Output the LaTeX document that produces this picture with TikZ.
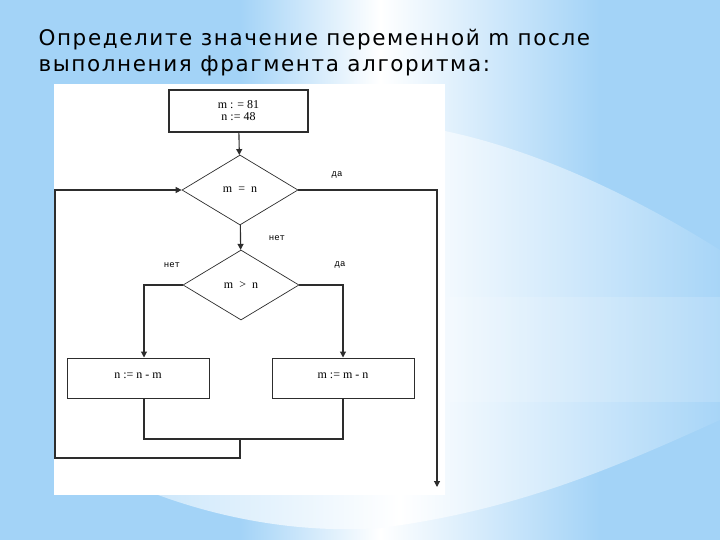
\documentclass[tikz,border=0pt]{standalone}
\usepackage{fontspec}
\setmainfont{DejaVu Sans}
\newfontfamily\zagfont[LetterSpace=7.5]{DejaVu Sans}
\newfontfamily\flowfont{Liberation Serif}
\newfontfamily\metkafont{Liberation Mono}
\usetikzlibrary{arrows.meta,shapes.geometric}
\definecolor{bgblue}{RGB}{163,211,247}
\definecolor{linegray}{RGB}{45,45,45}

\begin{document}
\begin{tikzpicture}[x=1pt,y=-1pt,line width=1.1pt,>={Triangle[length=6pt,width=6pt]},
  blok/.style={draw=linegray,fill=white,line width=1pt,minimum width=142pt,minimum height=40pt,inner sep=0pt,font=\flowfont\fontsize{12}{13}\selectfont},
  romb/.style={diamond,draw=linegray,line width=0.7pt,minimum width=116pt,minimum height=70pt,inner sep=0pt,font=\flowfont\fontsize{12}{14}\selectfont},
  metka/.style={font=\metkafont\fontsize{9}{10}\selectfont},
  zag/.style={anchor=base west,inner sep=0pt,font=\zagfont\fontsize{21.5}{26}\selectfont},
  svyaz/.style={draw=linegray,line width=1.1pt}]
  \useasboundingbox (0,0) rectangle (720,540);
  % фон слайда
  \fill[bgblue] (0,0) rectangle (720,540);
  \shade[left color=bgblue,right color=white] (240,0) rectangle (380,540);
  \shade[left color=white,right color=bgblue] (380,0) rectangle (600,540);
  \begin{scope}
    \clip (440,130) .. controls (540,150) and (640,200) .. (720,250) -- (720,420)
      .. controls (620,465) and (520,510) .. (380,528)
      .. controls (280,535) and (180,510) .. (100,470) -- (0,430) -- (0,140)
      .. controls (150,110) and (330,110) .. (440,130) -- cycle;
    \shade[left color=bgblue!55!white,right color=white] (150,0) rectangle (400,540);
    \shade[left color=white,right color=bgblue!95!white] (400,0) rectangle (720,540);
  \end{scope}
  \fill[white,opacity=0.15] (445,297) rectangle (720,402);
  % заголовок
  \node[zag] (zag1) at (38,46) {Определите значение переменной m после};
  \node[zag] (zag2) at (38,72) {выполнения фрагмента алгоритма:};
  % поле со схемой
  \fill[white] (54,84) rectangle (445,495);
  % блоки
  \node[blok,line width=1.4pt,minimum width=139pt,minimum height=42pt,align=center] (nach) at (238.5,111) {m : = 81\\[-1pt]n := 48};
  \node[romb] (usl1) at (240,190) {m\enspace=\enspace n};
  \node[romb] (usl2) at (241,285) {m\enspace>\enspace n};
  \node[blok] (blokn) at (138,378) {\raisebox{4pt}{n := n - m}};
  \node[blok] (blokm) at (343,378) {\raisebox{4pt}{m := m - n}};
  % точки для линий
  \coordinate (sliv) at (240,439);
  \coordinate (niz) at (240,458);
  \coordinate (levo) at (55,458);
  \coordinate (vyhod) at (437,487);
  % связи
  \draw[svyaz,->] (nach) -- (usl1);
  \draw[svyaz,->] (usl1) -- (usl2);
  \draw[svyaz,->] (usl2.west) -| ([xshift=6pt]blokn.north);
  \draw[svyaz,->] (usl2.east) -| (blokm.north);
  \draw[svyaz] ([xshift=6pt]blokn.south) |- (sliv) -| (blokm.south);
  \draw[svyaz,->] (sliv) -- (niz) -- (levo) |- (usl1.west);
  \draw[svyaz,->] (usl1.east) -| (vyhod);
  % подписи
  \node[metka] (da1) at (337,175) {да};
  \node[metka] (net1) at (277,238) {нет};
  \node[metka] (net2) at (172,265) {нет};
  \node[metka] (da2) at (340,265) {да};
\end{tikzpicture}
\end{document}
